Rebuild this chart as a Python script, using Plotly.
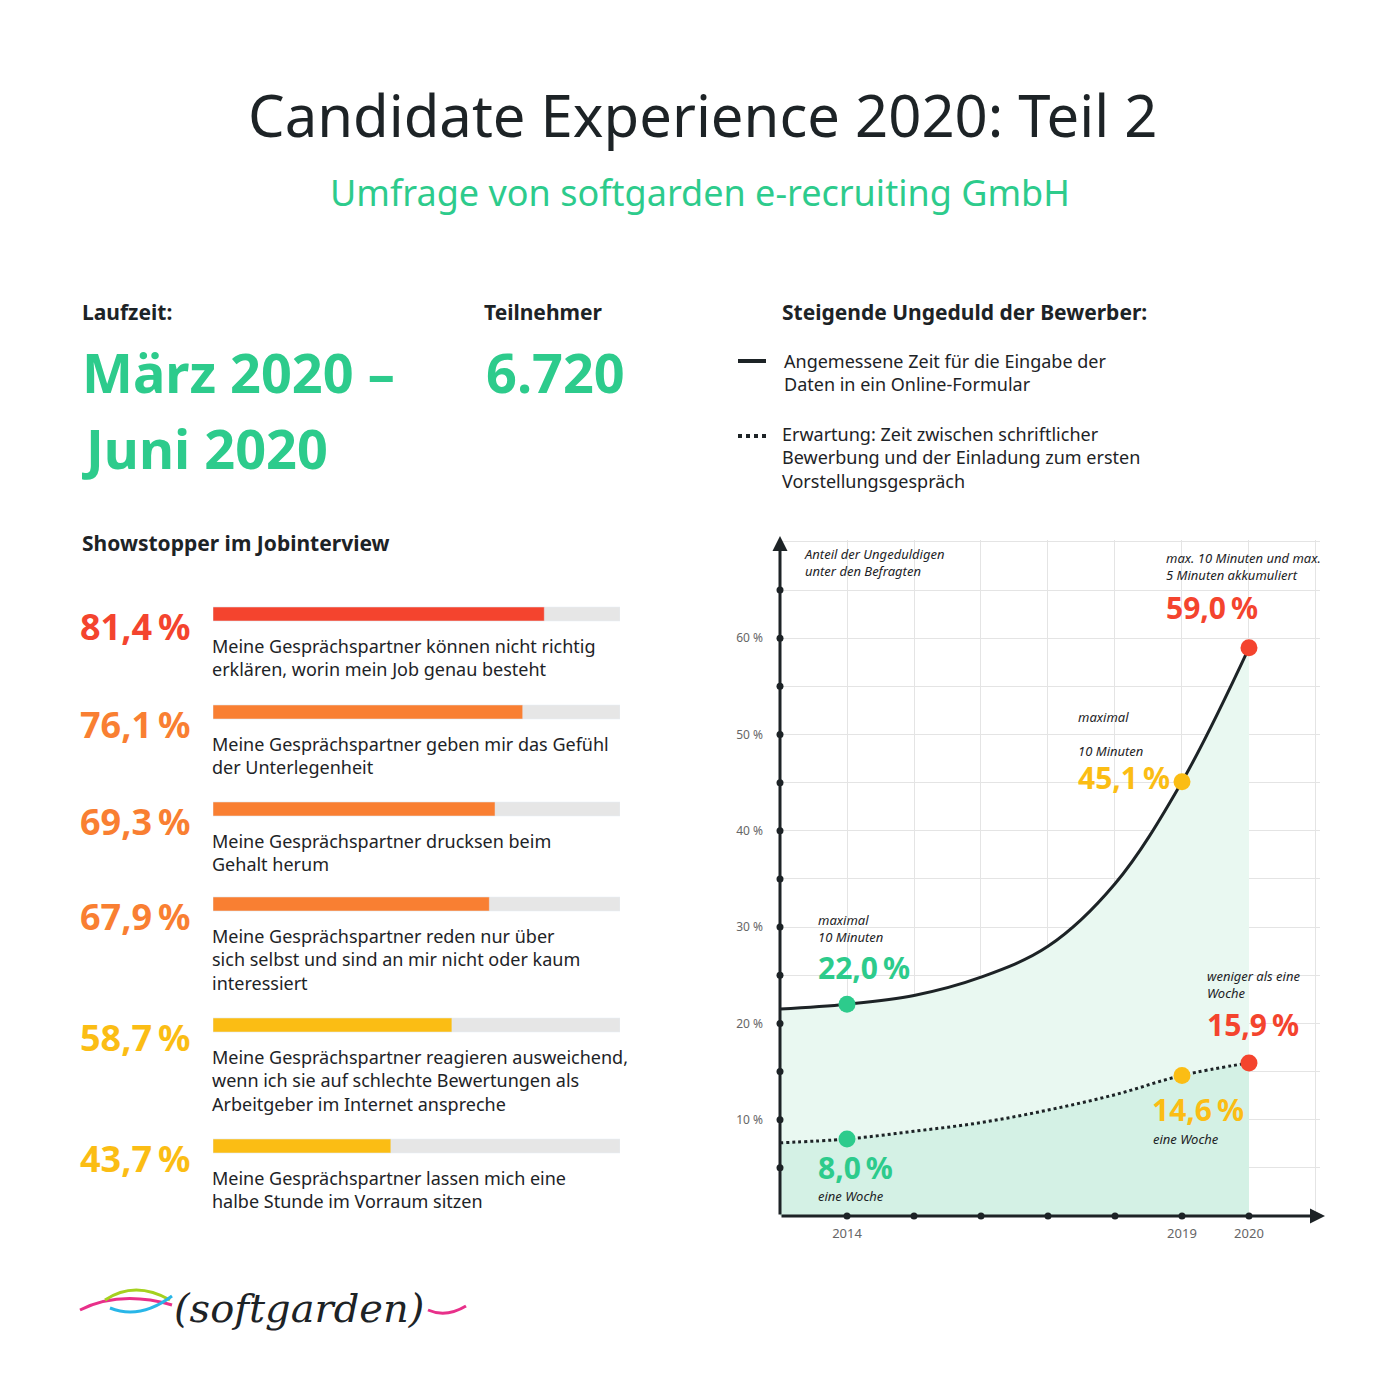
import plotly.graph_objects as go

# showstopper bars
pct = [81.4, 76.1, 69.3, 67.9, 58.7, 43.7]
pct_labels = ["81,4 %", "76,1 %", "69,3 %", "67,9 %", "58,7 %", "43,7 %"]
texts = [
    "Meine Gesprächspartner können nicht richtig<br>erklären, worin mein Job genau besteht",
    "Meine Gesprächspartner geben mir das Gefühl<br>der Unterlegenheit",
    "Meine Gesprächspartner drucksen beim<br>Gehalt herum",
    "Meine Gesprächspartner reden nur über<br>sich selbst und sind an mir nicht oder kaum<br>interessiert",
    "Meine Gesprächspartner reagieren ausweichend,<br>wenn ich sie auf schlechte Bewertungen als<br>Arbeitgeber im Internet anspreche",
    "Meine Gesprächspartner lassen mich eine<br>halbe Stunde im Vorraum sitzen",
]
bar_colors = ["#f4442e", "#f97f32", "#f97f32", "#f97f32", "#fbbd14", "#fbbd14"]
bar_rows = [614, 712, 809, 904, 1025, 1146]  # pixel rows of the bars

# impatience curves
years = [2013, 2014, 2015, 2016, 2017, 2018, 2019, 2020]
solid = [21.5, 22.0, 22.9, 24.8, 28.0, 34.5, 45.1, 59.0]
dotted = [7.6, 8.0, 8.8, 9.7, 11.0, 12.6, 14.6, 15.9]
y_ticks = [10, 20, 30, 40, 50, 60]
y_tick_labels = ["10 %", "20 %", "30 %", "40 %", "50 %", "60 %"]

GREEN = "#2dcb8c"
RED = "#f4442e"
YEL = "#fbbd14"
FONT = "Noto Sans"
OFF = 8  # page body margin

fig = go.Figure()

def py(p):
    return 1 - (p - OFF) / 1400

def px(p):
    return (p - OFF) / 1400

# bars
fig.add_trace(go.Bar(x=[100] * 6, y=bar_rows, orientation="h", marker_color="#e6e6e6",
                     width=14, xaxis="x", yaxis="y", showlegend=False, hoverinfo="skip"))
fig.add_trace(go.Bar(x=pct, y=bar_rows, orientation="h", marker_color=bar_colors,
                     width=14, xaxis="x", yaxis="y", showlegend=False))

# line chart
fig.add_trace(go.Scatter(x=years, y=solid, mode="lines", line=dict(color="#1d2326", width=3, shape="spline"),
                         fill="tozeroy", fillcolor="#e9f8f1", xaxis="x2", yaxis="y2", showlegend=False))
fig.add_trace(go.Scatter(x=years, y=dotted, mode="lines", line=dict(color="#1d2326", width=3, dash="dot", shape="spline"),
                         fill="tozeroy", fillcolor="#d4f1e5", xaxis="x2", yaxis="y2", showlegend=False))
pts_x = [2014, 2019, 2020, 2014, 2019, 2020]
pts_y = [22.0, 45.1, 59.0, 8.0, 14.6, 15.9]
pts_c = [GREEN, YEL, RED, GREEN, YEL, RED]
fig.add_trace(go.Scatter(x=pts_x, y=pts_y, mode="markers", marker=dict(size=17, color=pts_c),
                         xaxis="x2", yaxis="y2", showlegend=False, cliponaxis=False))
# axis dots
fig.add_trace(go.Scatter(x=[2014, 2015, 2016, 2017, 2018, 2019, 2020], y=[0] * 7, mode="markers",
                         marker=dict(size=7, color="#1d2326"), xaxis="x2", yaxis="y2",
                         showlegend=False, cliponaxis=False))
fig.add_trace(go.Scatter(x=[2013] * 13, y=[5 * i for i in range(1, 14)], mode="markers",
                         marker=dict(size=7, color="#1d2326"), xaxis="x2", yaxis="y2",
                         showlegend=False, cliponaxis=False))

ann = []
def t(x, y, s, size, color="#1d2326", anchor="left", yanchor="middle", bold=False, italic=False, font=FONT):
    if bold:
        s = "<b>" + s + "</b>"
    if italic:
        s = "<i>" + s + "</i>"
    ann.append(dict(x=px(x), y=py(y), xref="paper", yref="paper", text=s, showarrow=False,
                    xanchor=anchor, yanchor=yanchor, align=anchor if anchor != "center" else "center",
                    font=dict(size=size, color=color, family=font)))

t(702, 115, "Candidate Experience 2020: Teil 2", 58, "#1d2326", "center")
t(700, 192, "Umfrage von softgarden e-recruiting GmbH", 36, GREEN, "center")
t(80, 312, "Laufzeit:", 21, bold=True)
t(482, 312, "Teilnehmer", 21, bold=True)
t(780, 312, "Steigende Ungeduld der Bewerber:", 21, bold=True)
t(80, 372, "März 2020 –", 54, GREEN, bold=True)
t(80, 448, "Juni 2020", 54, GREEN, bold=True)
t(484, 372, "6.720", 54, GREEN, bold=True)
t(80, 543, "Showstopper im Jobinterview", 21, bold=True)
t(782, 372, "Angemessene Zeit für die Eingabe der<br>Daten in ein Online-Formular", 18)
t(780, 458, "Erwartung: Zeit zwischen schriftlicher<br>Bewerbung und der Einladung zum ersten<br>Vorstellungsgespräch", 18)

for i in range(6):
    t(78, bar_rows[i] + 12, pct_labels[i].replace(" ", "\u2009"), 36, bar_colors[i], bold=True)
    t(210, bar_rows[i] + 18, texts[i], 18, yanchor="top")

t(802, 562, "Anteil der Ungeduldigen<br>unter den Befragten", 13, italic=True)
t(1164, 567, "max. 10 Minuten und max.<br>5 Minuten akkumuliert", 13, italic=True)
t(1164, 607, "59,0\u2009%", 30, RED, bold=True)
t(1076, 734, "maximal<br><br>10 Minuten", 13, italic=True)
t(1076, 777, "45,1\u2009%", 30, YEL, bold=True)
t(816, 929, "maximal<br>10 Minuten", 13, italic=True)
t(816, 967, "22,0\u2009%", 30, GREEN, bold=True)
t(1205, 984, "weniger als eine<br>Woche", 13, italic=True)
t(1205, 1024, "15,9\u2009%", 30, RED, bold=True)
t(1150, 1109, "14,6\u2009%", 30, YEL, bold=True)
t(1151, 1139, "eine Woche", 13, italic=True)
t(816, 1167, "8,0\u2009%", 30, GREEN, bold=True)
t(816, 1196, "eine Woche", 13, italic=True)

# logo
t(172, 1308, "(softgarden)", 40, "#1d2326", italic=True, font="DejaVu Serif")

shapes = [
    dict(type="line", xref="paper", yref="paper", x0=px(738), x1=px(766), y0=py(361), y1=py(361),
         line=dict(color="#1d2326", width=4)),
    dict(type="line", xref="paper", yref="paper", x0=px(738), x1=px(766), y0=py(436), y1=py(436),
         line=dict(color="#1d2326", width=4, dash="dot")),
    dict(type="path", xref="paper", yref="paper",
         path=f"M {px(80)},{py(1310)} Q {px(120)},{py(1290)} {px(172)},{py(1305)}",
         line=dict(color="#e8308a", width=3)),
    dict(type="path", xref="paper", yref="paper",
         path=f"M {px(105)},{py(1300)} Q {px(135)},{py(1280)} {px(170)},{py(1300)}",
         line=dict(color="#a5d11f", width=3)),
    dict(type="path", xref="paper", yref="paper",
         path=f"M {px(110)},{py(1308)} Q {px(140)},{py(1320)} {px(172)},{py(1296)}",
         line=dict(color="#29b6e8", width=3)),
    dict(type="path", xref="paper", yref="paper",
         path=f"M {px(428)},{py(1310)} Q {px(446)},{py(1318)} {px(466)},{py(1306)}",
         line=dict(color="#e8308a", width=3)),
]
# axis arrows
ann.append(dict(x=px(1325), y=py(1216), ax=-545, ay=0, xref="paper", yref="paper",
                showarrow=True, arrowhead=2, arrowwidth=3, arrowcolor="#1d2326", text=""))
ann.append(dict(x=px(780), y=py(536), ax=0, ay=680, xref="paper", yref="paper",
                showarrow=True, arrowhead=2, arrowwidth=3, arrowcolor="#1d2326", text=""))

fig.update_layout(
    width=1400, height=1400, margin=dict(l=0, r=0, t=0, b=0),
    paper_bgcolor="white", plot_bgcolor="white", barmode="overlay",
    font=dict(family=FONT),
    xaxis=dict(domain=[px(213), px(620)], range=[0, 100], visible=False),
    yaxis=dict(domain=[0, 1], range=[1400 + OFF, OFF], visible=False),
    xaxis2=dict(domain=[px(780), px(1320)], range=[2013, 2021.06], anchor="y2",
                tickvals=[2014, 2019, 2020], ticktext=["2014", "2019", "2020"], ticklabelstandoff=8,
                tickfont=dict(size=13, color="#666"), showgrid=False, zeroline=False,
                minor=dict(dtick=1, tick0=2013, showgrid=True, gridcolor="#e4e4e4")),
    yaxis2=dict(domain=[py(1216), py(540)], range=[0, 70.2], anchor="x2",
                tickvals=y_ticks, ticktext=y_tick_labels, ticklabelstandoff=16,
                tickfont=dict(size=12, color="#666"), showgrid=False, zeroline=False,
                minor=dict(dtick=5, showgrid=True, gridcolor="#e4e4e4")),
    annotations=ann, shapes=shapes,
)
fig.write_html("out.html")
